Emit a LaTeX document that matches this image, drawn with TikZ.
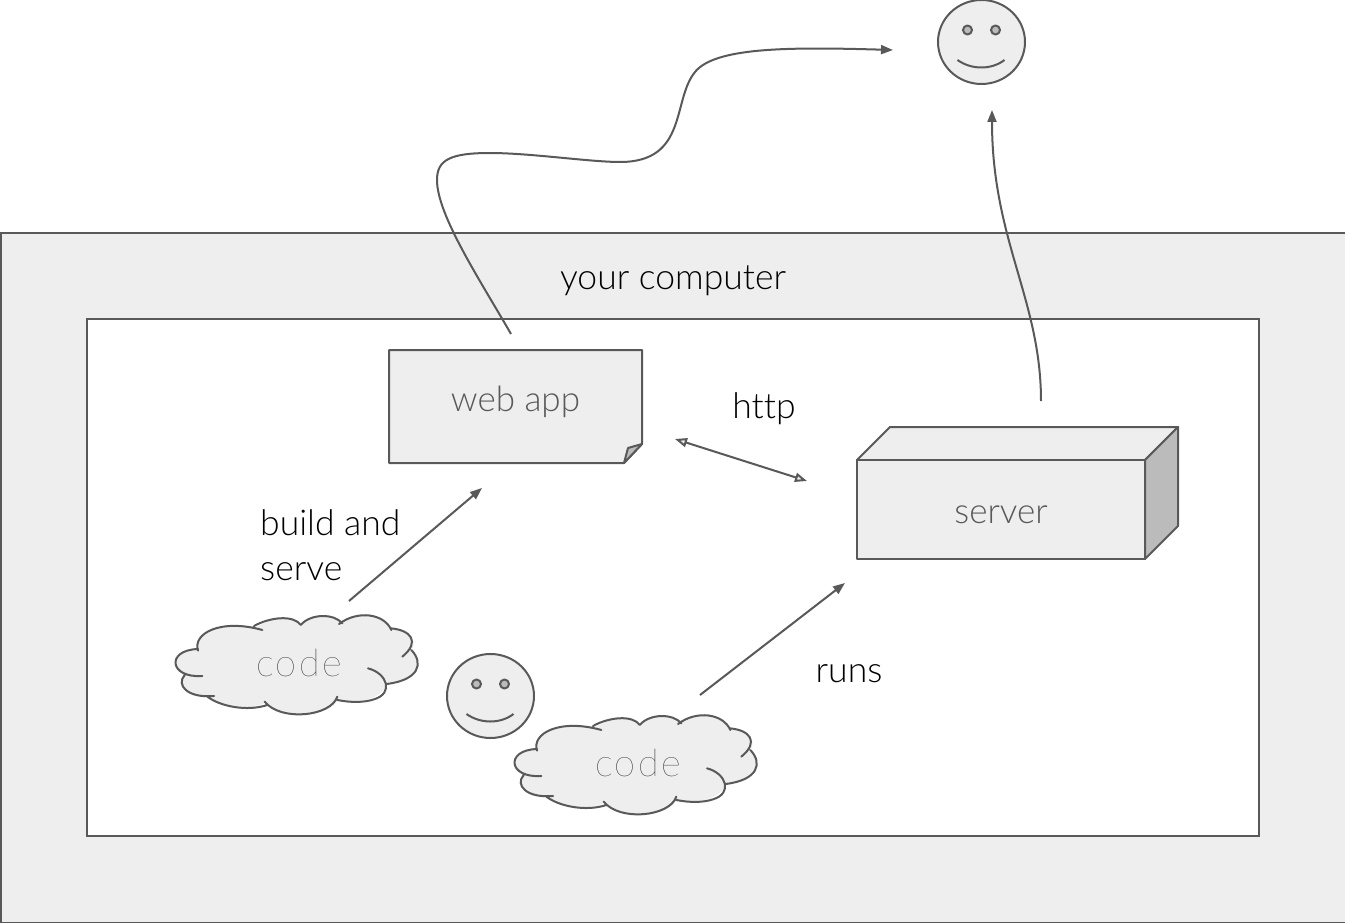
\documentclass[tikz,border=0pt]{standalone}
\usepackage{fontspec}
\setmainfont[Ligatures=NoCommon]{Lato Light}
\newfontfamily\spacedfont[LetterSpace=6]{Lato Thin}
\usetikzlibrary{arrows.meta,shapes.geometric}
\definecolor{ln}{HTML}{595959}
\definecolor{pale}{HTML}{EEEEEE}
\definecolor{dark}{HTML}{BBBBBB}
\tikzset{
  x=1pt,y=-1pt,
  panel/.style={draw=ln,line width=2pt},
  shapebox/.style={draw=ln,fill=pale,line width=2pt,line join=round},
  darkface/.style={draw=ln,fill=dark,line width=2pt,line join=round},
  conn/.style={draw=ln,line width=2pt,-{Triangle[length=12pt,width=9pt]}},
  twoway/.style={draw=ln,line width=2pt,{Triangle[open,fill=pale,length=12pt,width=9pt]}-{Triangle[open,fill=pale,length=12pt,width=9pt]}},
  light/.style={text=ln,font=\fontsize{35}{40}\selectfont,inner sep=0pt},
  label/.style={text=black,font=\fontsize{35.5}{44.5}\selectfont,inner sep=0pt},
}
\newcommand{\myface}[3]{%
  \begin{scope}[shift={(#1,#2)}]
    \node[ellipse,shapebox,minimum width=87pt,minimum height=84pt,inner sep=0pt] (#3) at (0,0) {};
    \node[circle,darkface,minimum size=9pt,inner sep=0pt] (#3l) at (-14,-12) {};
    \node[circle,darkface,minimum size=9pt,inner sep=0pt] (#3r) at (14,-12) {};
    \draw[draw=ln,line width=2pt] (-24,18) .. controls (-10,28) and (10,28) .. (23,18);
  \end{scope}}
\newcommand{\mycloud}[4]{%
  \begin{scope}[shift={(#1+0.7,#2)},x=0.3333pt,y=-0.3333pt]
    \fill[pale] (112,152) .. controls (95,100) and (170,65) .. (290,80)
      .. controls (340,50) and (400,45) .. (420,75)
      .. controls (450,40) and (520,40) .. (540,70)
      .. controls (590,30) and (670,45) .. (690,85)
      .. controls (750,90) and (770,125) .. (752,150)
      .. controls (790,190) and (775,240) .. (678,252)
      .. controls (670,290) and (600,315) .. (530,300)
      .. controls (510,350) and (360,365) .. (315,308)
      .. controls (260,335) and (180,320) .. (140,292)
      .. controls (80,295) and (45,255) .. (72,225)
      .. controls (25,210) and (35,150) .. (112,147) -- cycle;
    \draw[draw=ln,line width=2pt,line cap=round]
      (112,152) .. controls (95,100) and (180,55) .. (305,90)
      (280,78) .. controls (330,50) and (400,45) .. (420,75)
      (420,75) .. controls (450,40) and (520,40) .. (545,70)
      (535,72) .. controls (590,30) and (670,40) .. (692,90)
      (690,85) .. controls (750,90) and (780,125) .. (725,170)
      (752,150) .. controls (790,190) and (775,240) .. (678,252)
      (622,205) .. controls (680,220) and (700,280) .. (640,298) .. controls (610,308) and (570,308) .. (530,300)
      (530,290) .. controls (510,350) and (360,365) .. (312,305)
      (320,315) .. controls (260,335) and (180,320) .. (140,290)
      (160,288) .. controls (80,295) and (45,255) .. (72,225)
      (125,228) .. controls (25,235) and (15,150) .. (112,147);
  \end{scope}
  \node[inner sep=0pt,text=black,font=\fontsize{38}{40}\selectfont\spacedfont] (#3) at (#1+139,#2+63) {#4};}
\begin{document}
\begin{tikzpicture}
\useasboundingbox (0,0) rectangle (1345,923);
\fill[white] (0,0) rectangle (1345,923);
\node[panel,fill=pale,inner sep=0pt,minimum width=1345pt,minimum height=690pt,anchor=north west] (outer) at (-0.5,231.8) {};
\node[panel,fill=white,inner sep=0pt,minimum width=1172pt,minimum height=517pt,anchor=north west] (inner) at (86,317.8) {};
\node[label] (your) at (673,280.5) {your computer};
% web app
\draw[shapebox] (389,350) -- (642,350) -- (642,444) -- (624,463) -- (389,463) -- cycle;
\draw[darkface] (624,463) -- (628,448) -- (642,444) -- cycle;
\node[light] (webapp) at (515.5,402) {web app};
\coordinate (webtop) at (511,334);
% server
\draw[shapebox] (857,460) -- (890,427) -- (1178,427) -- (1145,460) -- cycle;
\draw[darkface] (1145,460) -- (1178,427) -- (1178,526) -- (1145,559) -- cycle;
\draw[shapebox] (857,460) -- (1145,460) -- (1145,559) -- (857,559) -- cycle;
\node[light] (server) at (1001,515) {server};
% faces
\myface{981.5}{42}{faceA}
\myface{490.5}{696}{faceB}
% clouds
\mycloud{160}{600}{codeA}{code}
\mycloud{499}{700}{codeB}{code}
% labels
\node[label] (http) at (764,409) {http};
\node[label,align=left,anchor=west] (build) at (260,545) {build and\\serve};
\node[label] (runs) at (849,674) {runs};
% connector ends
\coordinate (a1) at (893,50);
\coordinate (b0) at (1041,401);
\coordinate (b1) at (992,110);
\coordinate (c0) at (349,601);
\coordinate (c1) at (482,488);
\coordinate (d0) at (700,695);
\coordinate (d1) at (845,583);
\coordinate (e0) at (675,439);
\coordinate (e1) at (807,481);
\draw[conn] (webtop) .. controls (480,280) and (437,215) .. (437,180)
  .. controls (437,160) and (450,153) .. (490,153)
  .. controls (530,153) and (590,162) .. (620,162)
  .. controls (688,162) and (672,100) .. (695,72)
  .. controls (715,47) and (790,47) .. (a1);
\draw[conn] (b0) .. controls (1041,300) and (992,240) .. (b1);
\draw[conn] (c0) -- (c1);
\draw[conn] (d0) -- (d1);
\draw[twoway] (e0) -- (e1);
\end{tikzpicture}
\end{document}
